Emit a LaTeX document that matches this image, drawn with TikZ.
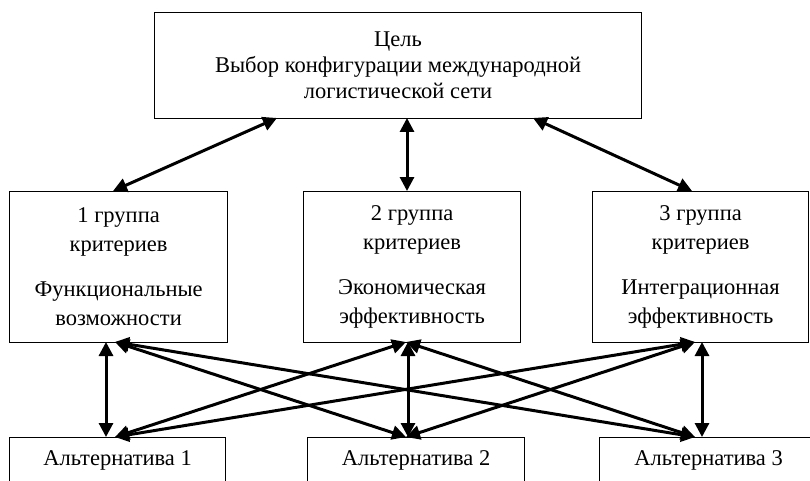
\documentclass[tikz,border=0pt]{standalone}
\usepackage{fontspec}
\setmainfont{Liberation Serif}
\usetikzlibrary{arrows.meta}
\begin{document}
\begin{tikzpicture}[x=1pt,y=-1pt,
  box/.style={draw,line width=1.2pt,inner sep=0pt,align=center,anchor=north west},
  toptext/.style={font=\fontsize{22.5}{26}\selectfont},
  midtext/.style={font=\fontsize{22.5}{29}\selectfont},
  conn/.style={line width=3pt,{Triangle[length=14pt,width=14pt]}-{Triangle[length=14pt,width=14pt]}}]
\useasboundingbox[fill=white] (0,0) rectangle (810,481);
% top
\node[box,toptext,minimum width=487pt,minimum height=106pt] (goal) at (154,12)
  {Цель\\Выбор конфигурации международной\\логистической сети};
% middle
\node[box,midtext,minimum width=218pt,minimum height=151pt] (g1) at (9,191)
  {1 группа\\критериев\\[16pt]Функциональные\\возможности};
\node[box,midtext,minimum width=217pt,minimum height=151pt] (g2) at (303,191)
  {2 группа\\критериев\\[16pt]Экономическая\\эффективность};
\node[box,midtext,minimum width=216pt,minimum height=151pt] (g3) at (592,191)
  {3 группа\\критериев\\[16pt]Интеграционная\\эффективность};
% bottom
\node[box,midtext,minimum width=216pt,minimum height=46pt] (a1) at (9,437) {Альтернатива 1};
\node[box,midtext,minimum width=217pt,minimum height=46pt] (a2) at (307,437) {Альтернатива 2};
\node[box,midtext,minimum width=218pt,minimum height=46pt] (a3) at (599,437) {Альтернатива 3};
% anchor points
\coordinate (gl) at (277,118);
\coordinate (gm) at (407,118);
\coordinate (gr) at (533,118);
\coordinate (g1t) at (113,191);
\coordinate (g2t) at (407,191);
\coordinate (g3t) at (692,191);
\coordinate (g1b) at (115,342);
\coordinate (g2b) at (406,342);
\coordinate (g3b) at (695,342);
\coordinate (g1v) at (106,342);
\coordinate (g2v) at (408,342);
\coordinate (g3v) at (702,342);
\coordinate (a1t) at (115,437);
\coordinate (a2t) at (406,437);
\coordinate (a3t) at (695,437);
\coordinate (a1v) at (106,437);
\coordinate (a2v) at (408,437);
\coordinate (a3v) at (702,437);
% top connectors
\draw[conn] (gl) -- (g1t);
\draw[conn] (gm) -- (g2t);
\draw[conn] (gr) -- (g3t);
% lower connectors
\draw[conn] (g1v) -- (a1v);
\draw[conn] (g2v) -- (a2v);
\draw[conn] (g3v) -- (a3v);
\draw[conn] (g1b) -- (a2t);
\draw[conn] (g1b) -- (a3t);
\draw[conn] (g2b) -- (a1t);
\draw[conn] (g2b) -- (a3t);
\draw[conn] (g3b) -- (a1t);
\draw[conn] (g3b) -- (a2t);
\end{tikzpicture}
\end{document}
